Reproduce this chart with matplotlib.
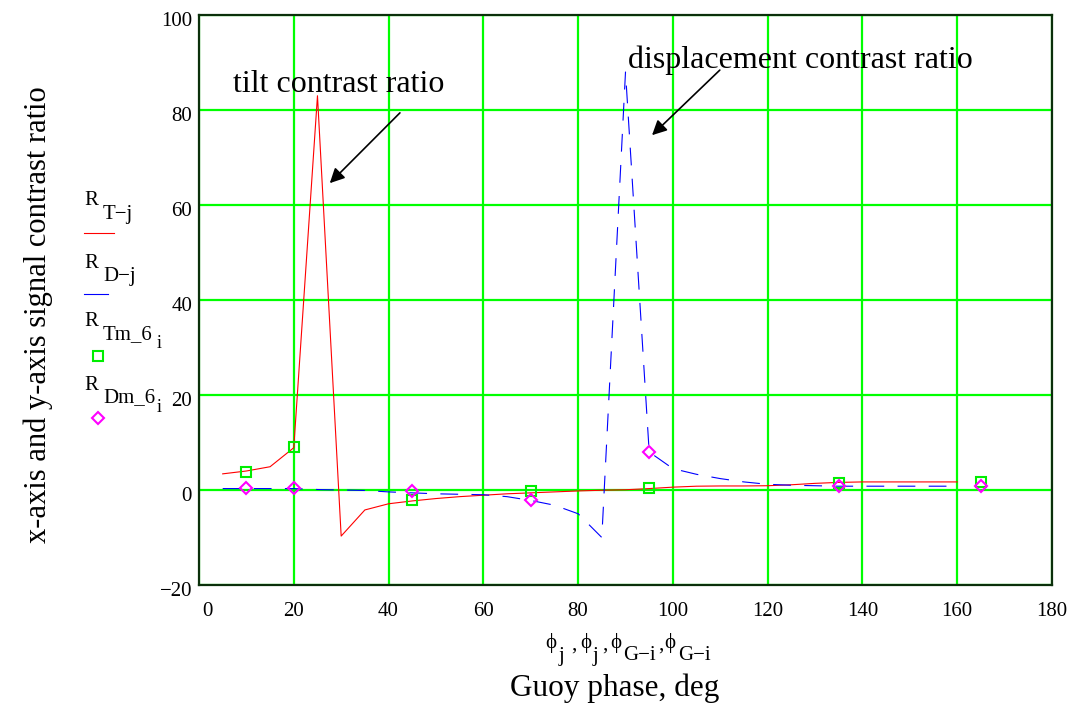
import matplotlib
matplotlib.use("Agg")
import matplotlib.pyplot as plt
from matplotlib.transforms import ScaledTranslation

# ---- data ----
phase_j = [5, 10, 15, 20, 25, 30, 35, 40, 45, 50, 55, 60, 65, 70, 75, 80, 85,
           90, 95, 100, 105, 110, 115, 120, 125, 130, 135, 140, 145, 150, 155, 160]
R_T = [3.4, 4.0, 4.9, 8.9, 83.0, -9.7, -4.2, -2.9, -2.3, -1.8, -1.4, -1.1, -0.8,
       -0.6, -0.4, -0.2, -0.05, 0.05, 0.3, 0.6, 0.8, 0.85, 0.85, 0.9, 1.1, 1.4,
       1.6, 1.7, 1.7, 1.7, 1.7, 1.7]
R_D = [0.3, 0.3, 0.3, 0.3, 0.1, 0.0, -0.1, -0.4, -0.6, -0.8, -0.9, -1.0, -1.4,
       -2.2, -3.2, -5.0, -10.0, 88.0, 8.0, 4.5, 3.3, 2.4, 1.7, 1.2, 1.0, 0.9,
       0.8, 0.8, 0.8, 0.8, 0.8, 0.8]
phase_G = [10, 20, 45, 70, 95, 135, 165]
R_Tm6 = [3.8, 9.0, -2.1, -0.3, 0.5, 1.4, 1.7]
R_Dm6 = [0.35, 0.35, -0.3, -2.1, 8.0, 0.9, 0.8]

x_ticks = [0, 20, 40, 60, 80, 100, 120, 140, 160, 180]
y_ticks = [-20, 0, 20, 40, 60, 80, 100]
y_tick_labels = ["\u221220", "0", "20", "40", "60", "80", "100"]

SERIF = ["Liberation Serif", "DejaVu Serif"]
plt.rcParams["font.family"] = SERIF

W, H = 1075, 707
fig = plt.figure(figsize=(W / 100, H / 100), dpi=100)
ax = fig.add_axes([199 / W, 1 - 585 / H, (1052 - 199) / W, (585 - 15) / H])

ax.set_xlim(0, 180)
ax.set_ylim(-20, 100)
ax.set_xticks(x_ticks)
ax.set_yticks(y_ticks)
ax.set_yticklabels(y_tick_labels)
ax.grid(True, color="#00ff00", linewidth=1.6, zorder=0)
ax.set_axisbelow(True)
ax.tick_params(length=0, labelsize=15)
ax.tick_params(axis="x", pad=12)
ax.tick_params(axis="y", pad=5)
for sp in ax.spines.values():
    sp.set_color("#0b300b")
    sp.set_linewidth(1.6)

ax.plot(phase_j, R_T, color="#ff0000", linewidth=0.8, zorder=3)
ax.plot(phase_j, R_D, color="#0000ff", linewidth=0.8, dashes=(16, 12), zorder=3)
ax.plot(phase_G, R_Tm6, linestyle="none", marker="s", markersize=6.5,
        markerfacecolor="none", markeredgecolor="#00ee00", markeredgewidth=1.5, zorder=4)
ax.plot(phase_G, R_Dm6, linestyle="none", marker="D", markersize=6.5,
        markerfacecolor="none", markeredgecolor="#ff00ff", markeredgewidth=1.5, zorder=5)

# shift first x tick label slightly to the right, y labels slightly down
fig.canvas.draw()
xl = ax.get_xticklabels()
xl[0].set_transform(xl[0].get_transform() + ScaledTranslation(0.08, 0, fig.dpi_scale_trans))
for lab in ax.get_yticklabels():
    lab.set_transform(lab.get_transform() + ScaledTranslation(0, -0.04, fig.dpi_scale_trans))

# annotations
ax.annotate("", xy=(27.6, 64.6), xytext=(42.4, 79.4),
            arrowprops=dict(arrowstyle="-|>", color="black", lw=1.2,
                            mutation_scale=22, shrinkA=0, shrinkB=0))
ax.text(7.2, 85.3, "tilt contrast ratio", fontsize=23, va="center", ha="left")
ax.annotate("", xy=(95.6, 74.7), xytext=(109.9, 88.4),
            arrowprops=dict(arrowstyle="-|>", color="black", lw=1.2,
                            mutation_scale=22, shrinkA=0, shrinkB=0))
ax.text(90.5, 90.5, "displacement contrast ratio", fontsize=23, va="center", ha="left")


def ftext(px, py, s, **kw):
    fig.text(px / W, 1 - py / H, s, **kw)


# axis labels
ftext(38, 315, "x-axis and y-axis signal contrast ratio", fontsize=22,
      rotation=90, ha="center", va="center")
ftext(615, 688, "Guoy phase, deg", fontsize=22.5, ha="center", va="center")

# phase label line (Mathcad style)
ftext(551, 643, "\u03d5", fontsize=15, ha="center", va="center")
ftext(561, 657, "j", fontsize=15, ha="center", va="center")
ftext(574, 645, ",", fontsize=15, ha="center", va="center")
ftext(586, 643, "\u03d5", fontsize=15, ha="center", va="center")
ftext(596, 657, "j", fontsize=15, ha="center", va="center")
ftext(605, 645, ",", fontsize=15, ha="center", va="center")
ftext(616, 643, "\u03d5", fontsize=15, ha="center", va="center")
ftext(623, 655, "G\u2212i", fontsize=15, ha="left", va="center")
ftext(661, 645, ",", fontsize=15, ha="center", va="center")
ftext(670, 643, "\u03d5", fontsize=15, ha="center", va="center")
ftext(678, 655, "G\u2212i", fontsize=15, ha="left", va="center")

# legend in left margin (Mathcad style)
legend_items = [
    ("T\u2212j", None, 201, 215),
    ("D\u2212j", None, 264, 277),
    ("Tm_6", "i", 321, 335),
    ("Dm_6", "i", 386, 398),
]
for name, sub, ry, ny in legend_items:
    ftext(84, ry, "R", fontsize=15, ha="left", va="center")
    ftext(103, ny, name, fontsize=15, ha="left", va="center")
    if sub:
        ftext(157, ny + 9, sub, fontsize=13, ha="left", va="center")

fig.add_artist(plt.Line2D([84 / W, 114 / W], [1 - 233 / H, 1 - 233 / H],
                          color="#ff0000", linewidth=0.8))
fig.add_artist(plt.Line2D([84 / W, 108 / W], [1 - 294 / H, 1 - 294 / H],
                          color="#0000ff", linewidth=0.8))
fig.add_artist(plt.Line2D([98 / W], [1 - 356 / H], marker="s", markersize=6.5,
                          markerfacecolor="none", markeredgecolor="#00ee00",
                          markeredgewidth=1.5, linestyle="none"))
fig.add_artist(plt.Line2D([98 / W], [1 - 418 / H], marker="D", markersize=6.5,
                          markerfacecolor="none", markeredgecolor="#ff00ff",
                          markeredgewidth=1.5, linestyle="none"))

fig.savefig("out.png", dpi=100)
